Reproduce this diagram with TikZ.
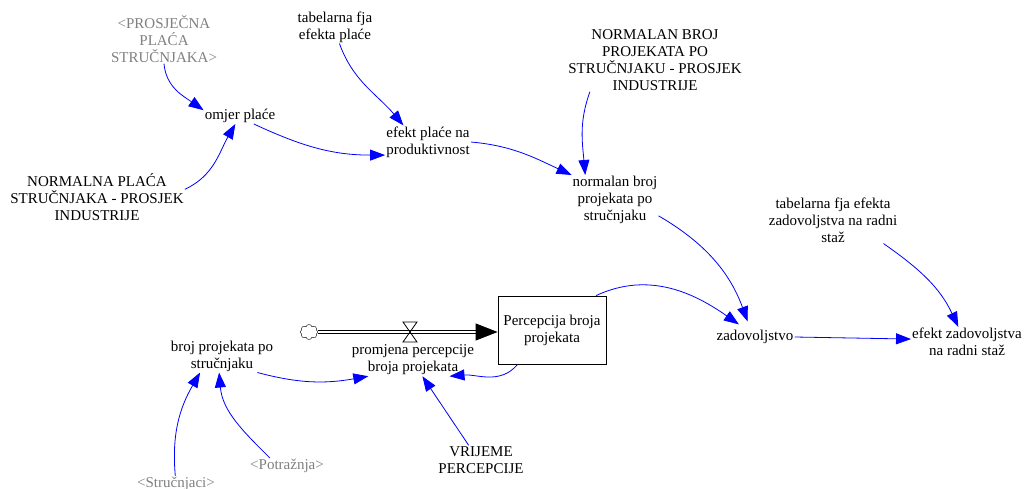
\documentclass[tikz,border=0pt]{standalone}
\usepackage{fontspec}
\setmainfont{Liberation Serif}
\usepackage{tikz}
\usetikzlibrary{arrows.meta,shapes.symbols}

\begin{document}
\begin{tikzpicture}[x=1pt,y=1pt,
        var/.style={font=\fontsize{15}{17}\selectfont, align=center, inner sep=1pt},
        shadow/.style={var, text=gray},
        level/.style={var, draw, line width=0.8pt, minimum width=108pt, minimum height=68pt},
        link/.style={blue, line width=0.8pt, -{Triangle[length=15pt,width=11pt]}},
        pipe/.style={double, double distance=2pt, line width=1pt, -{Triangle[length=22pt,width=17pt]}}]
    \useasboundingbox (0,0) rectangle (1029,-489);
    \node[shadow] (prosj) at (164,-39) {<PROSJEČNA\\PLAĆA\\STRUČNJAKA>};
    \node[var] (tabpl) at (335,-27) {tabelarna fja\\efekta plaće};
    \node[var] (omjer) at (240,-116) {omjer plaće};
    \node[var] (normpl) at (97,-197) {NORMALNA PLAĆA\\STRUČNJAKA - PROSJEK\\INDUSTRIJE};
    \node[var] (efpl) at (428,-142) {efekt plaće na\\produktivnost};
    \node[var] (normbr) at (655,-60) {NORMALAN BROJ\\PROJEKATA PO\\STRUČNJAKU - PROSJEK\\INDUSTRIJE};
    \node[var] (normal) at (615,-200) {normalan broj\\projekata po\\stručnjaku};
    \node[var] (tabzad) at (833,-220) {tabelarna fja efekta\\zadovoljstva na radni\\staž};
    \node[var] (zadov) at (755,-337) {zadovoljstvo};
    \node[var] (efzad) at (967,-342) {efekt zadovoljstva\\na radni staž};
    \node[level] (percep) at (552,-330) {Percepcija broja\\projekata};
    \node[cloud, draw, cloud puffs=8, aspect=1.2, minimum width=18pt, minimum height=15pt, inner sep=0pt] (cloud) at (309,-332) {};
    \coordinate (valve) at (410,-332);
    \node[var] (promj) at (413,-360) {promjena percepcije\\broja projekata};
    \node[var] (broj) at (222,-356) {broj projekata po\\stručnjaku};
    \node[var] (vrijeme) at (481,-460) {VRIJEME\\PERCEPCIJE};
    \node[shadow] (potr) at (287,-466) {<Potražnja>};
    \node[shadow] (strucn) at (176,-484) {<Stručnjaci>};

    \draw[pipe] (cloud.east |- valve) -- (percep.west |- valve);
    \draw[line width=0.8pt] (valve) ++(-7,10) -- ++(14,0) -- ++(-14,-20) -- ++(14,0) -- cycle;

    \draw[link] (prosj.south) to[out=-85,in=145] (omjer.171);
    \draw[link] (normpl.5) to[out=25,in=-120] (omjer.-120);
    \draw[link] (omjer.-30) to[out=-25,in=180] (efpl.197);
    \draw[link] (tabpl.-75) to[out=-70,in=130] (efpl.146);
    \draw[link] (efpl.east) to[out=-5,in=155] (normal.north west);
    \draw[link] (normbr.-154) to[out=-110,in=95] (normal.140);
    \draw[link, shorten >=8pt] (normal.-20) to[out=-30,in=110] (zadov.120);
    \draw[link, shorten >=8pt] (percep.38) to[out=25,in=145] (zadov.140);
    \draw[link] (zadov.east) -- (efzad.177);
    \draw[link] (tabzad.-25) to[out=-35,in=115] (efzad.120);
    \draw[link] (broj.-25) to[out=-15,in=190] (promj.200);
    \draw[link] (percep.-135) to[out=-130,in=5] (promj.-24);
    \draw[link] (vrijeme.130) -- (promj.-60);
    \draw[link] (strucn.95) to[out=95,in=-120] (broj.-143);
    \draw[link] (potr.155) to[out=135,in=-85] (broj.-100);
\end{tikzpicture}
\end{document}
